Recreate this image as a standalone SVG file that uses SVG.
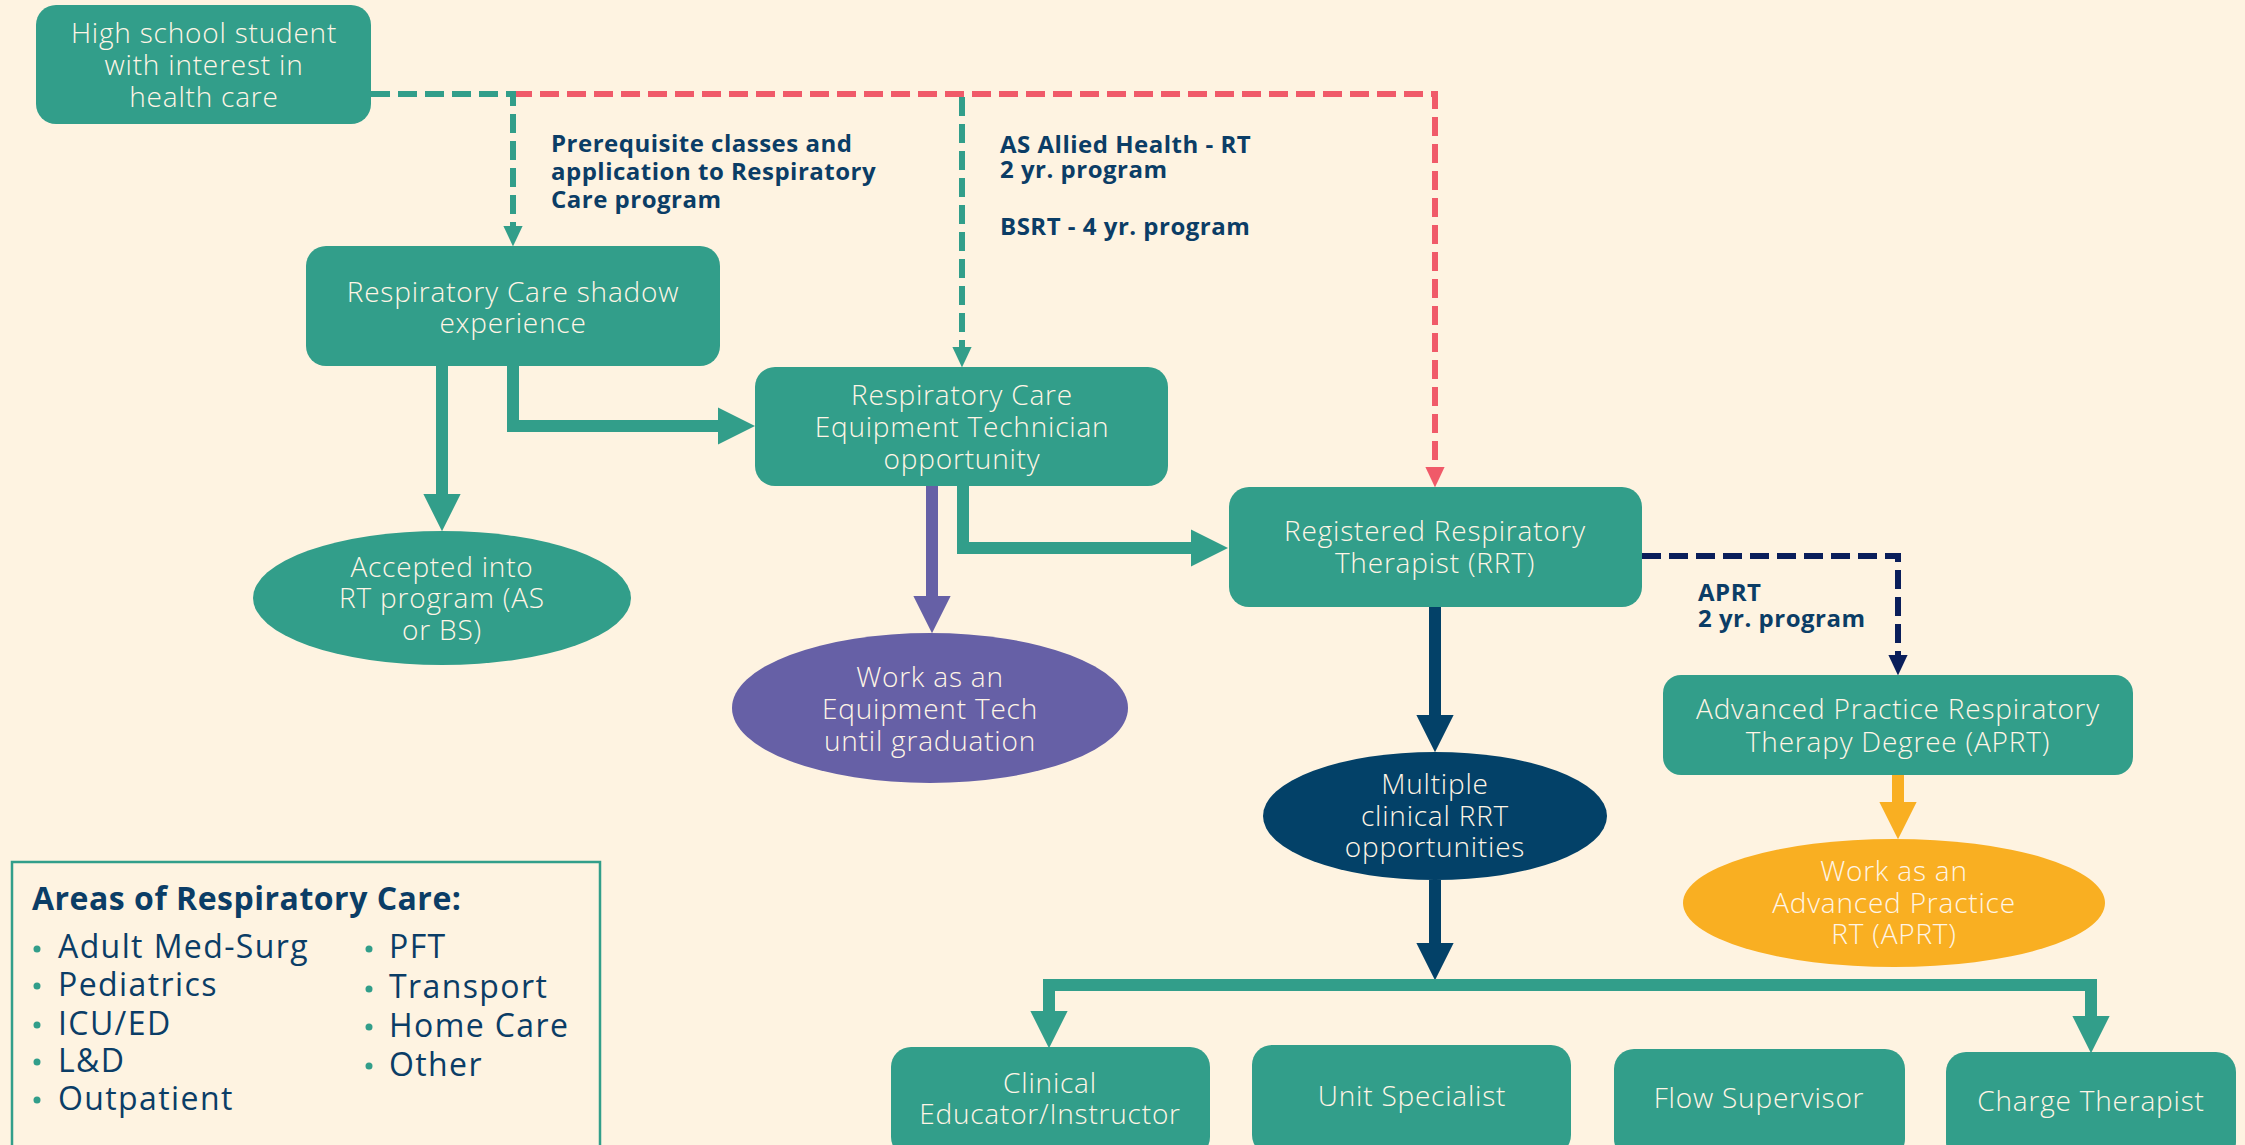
<svg xmlns="http://www.w3.org/2000/svg" width="2245" height="1145" viewBox="0 0 2245 1145">
<defs>
<style>
.bg{fill:#FEF3E1}
.box{fill:#329E8A}
.nt{font-family:"Open Sans","Liberation Sans",sans-serif;font-weight:300;font-size:28px;letter-spacing:0.8px;fill:#FFF5E6;text-anchor:middle}
.lb{font-family:"Open Sans","Liberation Sans",sans-serif;font-weight:700;font-size:24px;letter-spacing:0.5px;fill:#0B3D66}
.thick{fill:none;stroke-width:12;stroke-linejoin:miter;stroke-linecap:butt}
.dash{fill:none;stroke-width:6;stroke-dasharray:19 8;stroke-linecap:butt}
.lt{font-family:"Open Sans","Liberation Sans",sans-serif;font-size:32px;letter-spacing:1.4px;fill:#0B3D66}
.bul{fill:#329E8A}
</style>
<marker id="aT" markerUnits="strokeWidth" markerWidth="3.1" markerHeight="3.1" refX="0" refY="1.55" orient="auto"><path d="M0,0 L3.1,1.55 L0,3.1 z" fill="#329E8A"/></marker>
<marker id="aP" markerUnits="strokeWidth" markerWidth="3.1" markerHeight="3.1" refX="0" refY="1.55" orient="auto"><path d="M0,0 L3.1,1.55 L0,3.1 z" fill="#6660A6"/></marker>
<marker id="aN" markerUnits="strokeWidth" markerWidth="3.1" markerHeight="3.1" refX="0" refY="1.55" orient="auto"><path d="M0,0 L3.1,1.55 L0,3.1 z" fill="#034168"/></marker>
<marker id="aY" markerUnits="strokeWidth" markerWidth="3.1" markerHeight="3.1" refX="0" refY="1.55" orient="auto"><path d="M0,0 L3.1,1.55 L0,3.1 z" fill="#F9AF22"/></marker>
<marker id="dT" markerUnits="strokeWidth" markerWidth="3.4" markerHeight="3.2" refX="0" refY="1.6" orient="auto"><path d="M0,0 L3.4,1.6 L0,3.2 z" fill="#329E8A"/></marker>
<marker id="dR" markerUnits="strokeWidth" markerWidth="3.4" markerHeight="3.2" refX="0" refY="1.6" orient="auto"><path d="M0,0 L3.4,1.6 L0,3.2 z" fill="#F05A69"/></marker>
<marker id="dN" markerUnits="strokeWidth" markerWidth="3.4" markerHeight="3.2" refX="0" refY="1.6" orient="auto"><path d="M0,0 L3.4,1.6 L0,3.2 z" fill="#0A1E5A"/></marker>
</defs>
<rect class="bg" x="0" y="0" width="2245" height="1145"/>

<g id="connectors">
<path class="dash" stroke="#F05A69" d="M513,94 H1435 V467" marker-end="url(#dR)"/>
<path class="dash" stroke="#329E8A" d="M371,94 H513 V226" marker-end="url(#dT)"/>
<path class="dash" stroke="#329E8A" d="M962,97 V347" marker-end="url(#dT)"/>
<path class="thick" stroke="#329E8A" d="M442,366 V494" marker-end="url(#aT)"/>
<path class="thick" stroke="#329E8A" d="M513,366 V426 H718" marker-end="url(#aT)"/>
<path class="thick" stroke="#6660A6" d="M932,486 V596" marker-end="url(#aP)"/>
<path class="thick" stroke="#329E8A" d="M963,486 V548 H1191" marker-end="url(#aT)"/>
<path class="thick" stroke="#034168" d="M1435,607 V715" marker-end="url(#aN)"/>
<path class="thick" stroke="#034168" d="M1435,880 V943" marker-end="url(#aN)"/>
<path class="thick" stroke="#329E8A" d="M1436,985 H1049 V1011" marker-end="url(#aT)"/>
<path class="thick" stroke="#329E8A" d="M1430,985 H2091 V1016" marker-end="url(#aT)"/>
<path class="dash" stroke="#0A1E5A" d="M1642,556 H1898 V655" marker-end="url(#dN)"/>
<path class="thick" stroke="#F9AF22" d="M1898,775 V802" marker-end="url(#aY)"/>
</g>

<g id="labels">
<text class="lb" x="551" y="152">Prerequisite classes and</text>
<text class="lb" x="551" y="180">application to Respiratory</text>
<text class="lb" x="551" y="208">Care program</text>
<text class="lb" x="1000" y="153">AS Allied Health - RT</text>
<text class="lb" x="1000" y="178">2 yr. program</text>
<text class="lb" x="1000" y="235">BSRT - 4 yr. program</text>
<text class="lb" x="1698" y="601">APRT</text>
<text class="lb" x="1698" y="627">2 yr. program</text>
</g>

<g id="n-highschool">
<rect class="box" x="36" y="5" width="335" height="119" rx="20"/>
<text class="nt" x="204" y="43">High school student</text>
<text class="nt" x="204" y="75">with interest in</text>
<text class="nt" x="204" y="107">health care</text>
</g>
<g id="n-shadow">
<rect class="box" x="306" y="246" width="414" height="120" rx="20"/>
<text class="nt" x="513" y="302">Respiratory Care shadow</text>
<text class="nt" x="513" y="333">experience</text>
</g>
<g id="n-equip">
<rect class="box" x="755" y="367" width="413" height="119" rx="20"/>
<text class="nt" x="962" y="405">Respiratory Care</text>
<text class="nt" x="962" y="437">Equipment Technician</text>
<text class="nt" x="962" y="469">opportunity</text>
</g>
<g id="n-accepted">
<ellipse class="box" cx="442" cy="598" rx="189" ry="67"/>
<text class="nt" x="442" y="577">Accepted into</text>
<text class="nt" x="442" y="608">RT program (AS</text>
<text class="nt" x="442" y="640">or BS)</text>
</g>
<g id="n-worktech">
<ellipse cx="930" cy="708" rx="198" ry="75" fill="#6660A6"/>
<text class="nt" x="930" y="687">Work as an</text>
<text class="nt" x="930" y="719">Equipment Tech</text>
<text class="nt" x="930" y="751">until graduation</text>
</g>
<g id="n-rrt">
<rect class="box" x="1229" y="487" width="413" height="120" rx="20"/>
<text class="nt" x="1435" y="541">Registered Respiratory</text>
<text class="nt" x="1435" y="573">Therapist (RRT)</text>
</g>
<g id="n-aprt">
<rect class="box" x="1663" y="675" width="470" height="100" rx="18"/>
<text class="nt" x="1898" y="719">Advanced Practice Respiratory</text>
<text class="nt" x="1898" y="752">Therapy Degree (APRT)</text>
</g>
<g id="n-multiple">
<ellipse cx="1435" cy="816" rx="172" ry="64" fill="#034168"/>
<text class="nt" x="1435" y="794">Multiple</text>
<text class="nt" x="1435" y="826">clinical RRT</text>
<text class="nt" x="1435" y="857">opportunities</text>
</g>
<g id="n-workaprt">
<ellipse cx="1894" cy="903" rx="211" ry="64" fill="#F9AF22"/>
<text class="nt" x="1894" y="881">Work as an</text>
<text class="nt" x="1894" y="913">Advanced Practice</text>
<text class="nt" x="1894" y="944">RT (APRT)</text>
</g>
<g id="n-educator">
<rect class="box" x="891" y="1047" width="319" height="110" rx="20"/>
<text class="nt" x="1050" y="1093">Clinical</text>
<text class="nt" x="1050" y="1124">Educator/Instructor</text>
</g>
<g id="n-unit">
<rect class="box" x="1252" y="1045" width="319" height="110" rx="20"/>
<text class="nt" x="1412" y="1106">Unit Specialist</text>
</g>
<g id="n-flow">
<rect class="box" x="1614" y="1049" width="291" height="110" rx="20"/>
<text class="nt" x="1759" y="1108">Flow Supervisor</text>
</g>
<g id="n-charge">
<rect class="box" x="1946" y="1052" width="290" height="110" rx="20"/>
<text class="nt" x="2091" y="1111">Charge Therapist</text>
</g>

<g id="legend">
<rect x="12" y="862" width="588" height="300" fill="none" stroke="#329E8A" stroke-width="2.5"/>
<text x="32" y="910" font-family="'Open Sans','Liberation Sans',sans-serif" font-weight="700" font-size="32" letter-spacing="0.5" fill="#0B3D66">Areas of Respiratory Care:</text>
<circle class="bul" cx="37" cy="949" r="3.5"/><text class="lt" x="58" y="958">Adult Med-Surg</text>
<circle class="bul" cx="37" cy="986" r="3.5"/><text class="lt" x="58" y="996">Pediatrics</text>
<circle class="bul" cx="37" cy="1025" r="3.5"/><text class="lt" x="58" y="1035">ICU/ED</text>
<circle class="bul" cx="37" cy="1062" r="3.5"/><text class="lt" x="58" y="1072">L&amp;D</text>
<circle class="bul" cx="37" cy="1100" r="3.5"/><text class="lt" x="58" y="1110">Outpatient</text>
<circle class="bul" cx="369" cy="949" r="3.5"/><text class="lt" x="389" y="958">PFT</text>
<circle class="bul" cx="369" cy="989" r="3.5"/><text class="lt" x="389" y="998">Transport</text>
<circle class="bul" cx="369" cy="1027" r="3.5"/><text class="lt" x="389" y="1037">Home Care</text>
<circle class="bul" cx="369" cy="1066" r="3.5"/><text class="lt" x="389" y="1076">Other</text>
</g>
</svg>
